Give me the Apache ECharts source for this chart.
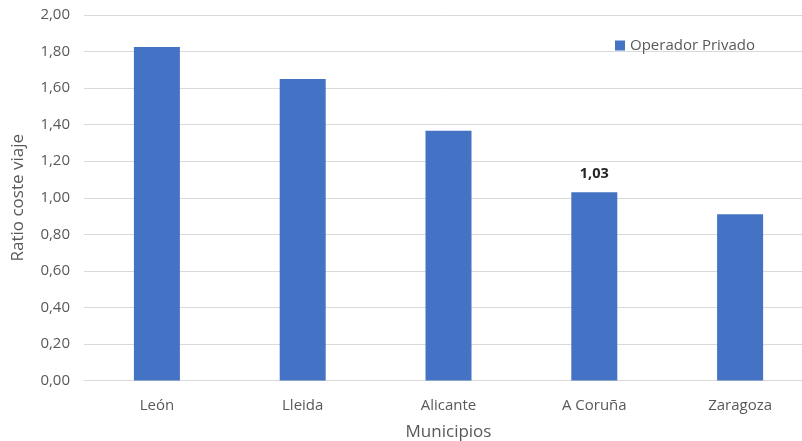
<!DOCTYPE html>
<html>
<head>
<meta charset="utf-8">
<script src="https://cdn.jsdelivr.net/npm/echarts@6/dist/echarts.min.js"></script>
<style>
  html, body { margin: 0; padding: 0; background: #fff; }
  #chart { width: 802px; height: 441px; }
</style>
</head>
<body>
<div id="chart"></div>
<script>
// Ratio coste viaje por municipio (operador privado)
const municipios = ['León', 'Lleida', 'Alicante', 'A Coruña', 'Zaragoza'];
const ratioOperadorPrivado = [1.825, 1.65, 1.367, 1.03, 0.91];
// Only A Coruña carries a data label
const etiquetaVisible = [false, false, false, true, false];

const FONT = '"Open Sans", "Noto Sans", sans-serif';
const TXT = '#595959';
const fmt = v => v.toFixed(2).replace('.', ',');

const chart = echarts.init(document.getElementById('chart'), null, { renderer: 'canvas' });

chart.setOption({
  animation: false,
  backgroundColor: '#ffffff',
  // plot area runs past the right edge of the canvas
  grid: { left: 84, width: 729, top: 15, height: 365.5, containLabel: false, outerBoundsMode: 'none' },
  legend: {
    data: ['Operador Privado'],
    left: 610,
    top: 33,
    itemWidth: 10,
    itemHeight: 10,
    itemGap: 4,
    icon: 'rect',
    textStyle: { color: TXT, fontSize: 15, fontFamily: FONT }
  },
  xAxis: {
    type: 'category',
    data: municipios,
    name: 'Municipios',
    nameLocation: 'middle',
    nameGap: 43,
    nameTextStyle: { color: TXT, fontSize: 17, fontFamily: FONT },
    axisLine: { show: true, lineStyle: { color: '#d9d9d9', width: 1 } },
    axisTick: { show: false },
    axisLabel: { color: TXT, fontSize: 15, fontFamily: FONT, margin: 18 }
  },
  yAxis: {
    type: 'value',
    min: 0,
    max: 2,
    interval: 0.2,
    name: 'Ratio coste viaje',
    nameLocation: 'middle',
    nameGap: 57,
    nameTextStyle: { color: TXT, fontSize: 17, fontFamily: FONT },
    axisLine: { show: false },
    axisTick: { show: false },
    axisLabel: { color: TXT, fontSize: 15, fontFamily: FONT, margin: 14, formatter: fmt },
    splitLine: { lineStyle: { color: '#d9d9d9', width: 1 } }
  },
  series: [{
    name: 'Operador Privado',
    type: 'bar',
    barWidth: 46,
    itemStyle: { color: '#4472c4' },
    data: ratioOperadorPrivado.map((v, i) => ({
      value: v,
      label: {
        show: etiquetaVisible[i],
        position: 'top',
        distance: 11,
        formatter: p => fmt(p.value),
        color: '#262626',
        fontSize: 14.5,
        fontWeight: 'bold',
        fontFamily: FONT
      }
    }))
  }]
});
</script>
</body>
</html>
